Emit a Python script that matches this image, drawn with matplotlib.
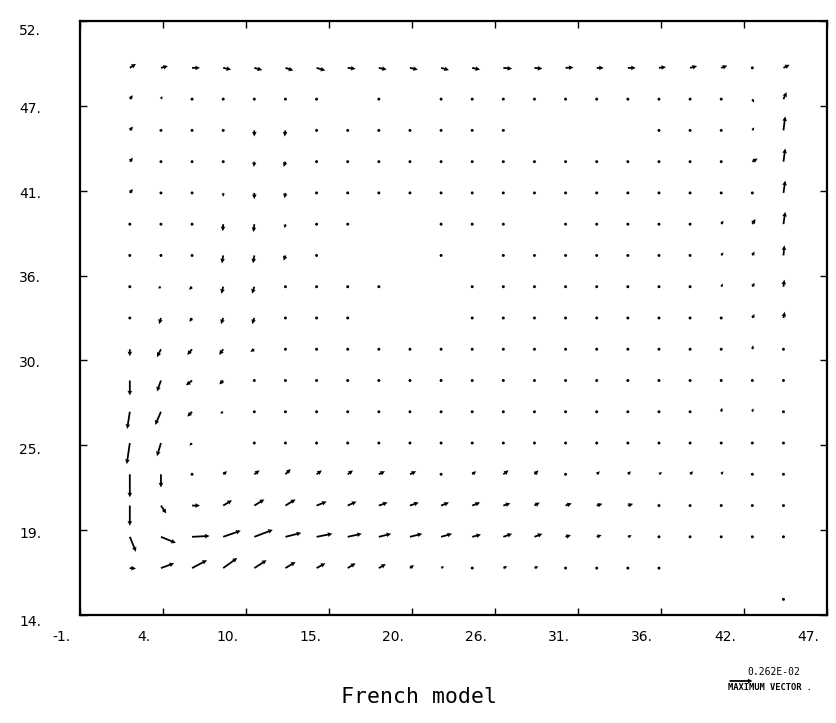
import numpy as np
import matplotlib
matplotlib.use("Agg")
import matplotlib.pyplot as plt
import matplotlib.transforms as mtransforms

nan = np.nan

# model grid (x to the right, y rows listed from top to bottom)
x_grid = np.arange(2.2, 44.3, 2.0)
y_grid = np.arange(49, 16, -2)

# velocity components, in units of 1e-4, one list per grid row (y = 49 ... 17)
u_rows = [
    [7, 8, 9, 9, 9, 9, 10, 9, 9, 9, 9, 9, 10, 9, 9, 8, 9, 8, 8, 7, 2, 7],
    [3.5, 1.5, 3, .5, .5, .3, .5, nan, .3, nan, .3, .5, .5, .5, .5, .5, .5, .5, .5, .5, 2, 3.5],
    [3.5, 2, 3, .3, 0, -1, .5, .5, .5, .5, .3, .3, .3, nan, nan, nan, nan, .3, .5, 1, 2, 2],
    [3.5, 2, 1, 0, -.5, -2, 1, .5, .5, .5, .5, .5, .5, .5, .5, .5, .5, .5, 2, 1.5, 6, 2],
    [3.5, 1.5, 2, 0, 0, -1, 1, .5, .5, .5, .5, .5, .5, .5, 1.5, .5, .5, .5, 2, 1.5, 1, 2],
    [2, 1, 1, -.5, -1, -1, 1.5, .5, nan, nan, .5, .5, .3, nan, .5, .5, 1.5, 1.5, 2, 2.5, 3.5, 2],
    [2, 1, -1, -1.5, -1.5, -2, 1, nan, nan, nan, .5, nan, .5, .5, .5, .5, 1.5, 1, 2, 2.5, 2.5, 1],
    [.5, -3.5, -3.5, -2, -2.5, -1, .5, .5, .5, nan, nan, .5, .5, .5, .5, .5, 2, 2, 1.5, 2, 2.5, 1],
    [0, -2, -3, -2.5, -2.5, -1, .5, .5, nan, nan, nan, 1, .5, .5, .5, 1, 1.5, 2, 2, 2, 2.5, 1.5],
    [0, -4.5, -5.5, -4.5, -4.5, 0, .5, .5, .5, .5, .5, .5, .5, .5, 1, 1.5, 1.5, 2, .5, 1, 1, 1],
    [0, -4.5, -7, -4.5, -2, .5, .5, .5, .5, .5, .5, .5, .5, 1, .5, 1, 1.5, 2, 1, 3, 1, 1],
    [-3, -6.5, -5.5, -3.5, .5, .5, 0, .5, .5, .5, 1, .5, 2, 2, 1, 2, 2, 2, 1, 1, 1, 1],
    [-3.5, -4.5, -3, nan, .5, .5, 1, 1, .5, .5, .5, 1, 2, 2, 2, 2, 2, .5, 1.5, 3, .3, 1],
    [0, 0, .5, 4.5, 6, 6, 6, 6, 7, 7, 2, 4.5, 6, 4.5, 1, 3.5, 3.5, 3.5, 3.5, 2.5, 1, 1],
    [0, 6, 9, 10, 11.5, 11.5, 11.5, 10, 10, 10, 9, 9, 8, 6, 7, 6.5, 6, 2, 1.5, 1.5, .5, 1],
    [7, 17, 20, 20, 21, 18, 18, 16, 14, 14, 12.5, 10, 10, 9, 6, 5.5, 4.5, 3.5, 1, 1, .5, 1],
    [7, 15, 17, 16, 14, 11.5, 10, 9, 8, 4.5, 3.5, 2, 4.5, 4.5, 1, .5, .5, .5, nan, nan, nan, nan],
]
v_rows = [
    [4.5, 2, 0, -2, -2.5, -3, -3, -1, -2, -2, -2.5, -2, -1, -1, .5, 0, 0, 1, 2, 2.5, -2.5, 3.5],
    [4.5, 3.5, 1, 0, 0, 0, 0, nan, 0, nan, 0, 0, 0, 0, 0, 0, 0, 0, 0, .5, -4, 8],
    [4.5, 1, .5, -2, -7, -7, -2, 0, 0, 0, 0, 0, 0, nan, nan, nan, nan, 0, 0, -1, 3.5, 16],
    [4.5, 1, 0, -3.5, -6, -6, 1, 0, 0, 0, 0, 0, 0, 0, 0, 0, 0, 0, 0, 1, 3.5, 15],
    [4.5, .5, 0, -4.5, -7, -6, 1.5, 0, 0, 0, 0, 0, 0, 0, 0, 0, 0, 0, 1, 1.5, 1, 14],
    [2, .5, 0, -8, -9, -4.5, .5, 0, nan, nan, 0, 0, 0, nan, 0, 0, 0, 0, .5, 4, 6, 14],
    [.5, 0, -3, -9, -9, -6, .5, nan, nan, nan, 0, nan, 0, 0, 0, 0, 0, 1, .5, 3.5, 4.5, 11.5],
    [0, -2, -3.5, -8, -8, -1, 0, 0, 0, nan, nan, 0, 0, 0, 0, 0, .5, .5, 1, 3.5, 4.5, 8],
    [-2, -7, -4.5, -7, -7, -1, 0, 0, nan, nan, nan, 0, 0, 0, 0, 0, 0, 1, 1.5, 2.5, 4.5, 7],
    [-8, -9, -6.5, -6.5, -3, .5, 0, 0, 0, 0, 0, 0, 0, 0, 1, .5, .5, 1, 0, 1, 4.5, 3.5],
    [-17, -12.5, -5.5, -4.5, -1, 0, 0, 0, 0, 0, 0, 0, 0, .5, 0, .5, .5, 1.5, 1, 2, 2, .5],
    [-19.5, -15, -5.5, -2, 0, 0, 1.5, 0, 0, 0, .5, 0, 1.5, 2, 2, 2, 1.5, 1, 1, 4.5, 4, 0],
    [-24, -15, -3, nan, 0, 1.5, 1, 0, 0, 0, 0, .5, 1.5, 2, .5, .5, .5, 0, 0, 2, 0, 0],
    [-26.2, -15, 0, 3.5, 4.5, 6, 4.5, 4.5, 3.5, 3.5, 1, 3.5, 4.5, 4.5, 1, 3.5, 3.5, 2.5, 3.5, 3.5, .5, 0],
    [-23, -9, 0, 6, 7, 7, 4.5, 4.5, 3.5, 3.5, 3.5, 3.5, 2.5, 3.5, 2.5, 2, 2, 1, .5, 0, 0, 0],
    [-17, -7, 1, 7, 8, 4.5, 3.5, 3.5, 3.5, 3.5, 3.5, 2.5, 3.5, 3.5, 2, 2, 1.5, 0, 0, 0, 0, .5],
    [-.5, 5.5, 9, 11.5, 9, 7, 5.5, 5.5, 4.5, 3.5, 2, 1, 2, 2, .5, 0, 0, 0, nan, nan, nan, nan],
]

# single point below the grid
x_extra = [44.2]
y_extra = [15.0]
u_extra = [0.5]
v_extra = [0.0]

xtick_labels = ['-1.', '4.', '10.', '15.', '20.', '26.', '31.', '36.', '42.', '47.']
ytick_labels = ['14.', '19.', '25.', '30.', '36.', '41.', '47.', '52.']

X, Y = np.meshgrid(x_grid, y_grid)
u = np.array(u_rows) * 1e-4
v = np.array(v_rows) * 1e-4
xs = np.concatenate([X.ravel(), x_extra])
ys = np.concatenate([Y.ravel(), y_extra])
us = np.concatenate([u.ravel(), np.array(u_extra) * 1e-4])
vs = np.concatenate([v.ravel(), np.array(v_extra) * 1e-4])
ok = np.isfinite(us) & np.isfinite(vs)

vmax = np.nanmax(np.hypot(us, vs))

fig = plt.figure(figsize=(8.37, 7.23), dpi=100)
ax = fig.add_axes([0.0956, 0.1494, 0.8925, 0.8216])

Q = ax.quiver(xs[ok], ys[ok], us[ok], vs[ok], pivot='tail', color='black',
              units='dots', width=1.8, headwidth=2.6, headlength=2.6,
              headaxislength=2.4, minshaft=1.2, minlength=1.8,
              scale_units='dots', scale=vmax / 23.0)

ax.set_xlim(-1, 47)
ax.set_ylim(14, 52)
ax.set_xticks(np.linspace(-1, 47, 10))
ax.set_yticks(np.linspace(14, 52, 8))
ax.set_xticklabels(xtick_labels)
ax.set_yticklabels(ytick_labels)
ax.tick_params(direction='in', length=5, width=1, top=True, right=True,
               labelsize=10, colors='black')
ax.tick_params(axis='x', pad=11)
ax.tick_params(axis='y', pad=28)
for s in ax.spines.values():
    s.set_linewidth(1.6)

# shift tick labels the way the plotter placed them
for lbl in ax.get_xticklabels():
    lbl.set_transform(lbl.get_transform() +
                      mtransforms.ScaledTranslation(-13.7 / 72, 0, fig.dpi_scale_trans))
ydown = [4, 2, 2, 1, 1, 1, 1, 6]
for lbl, dy in zip(ax.get_yticklabels(), ydown):
    lbl.set_transform(lbl.get_transform() +
                      mtransforms.ScaledTranslation(0, -dy / 72, fig.dpi_scale_trans))

# maximum vector key, FORTRAN style number
e = int(np.floor(np.log10(vmax))) + 1
key_label = f"{vmax / 10**e:.3f}E{e:+03d}"
ax.quiverkey(Q, 0.8853, 0.0581, vmax, '', labelpos='N', coordinates='figure')
fig.text(0.9247, 0.0705, key_label, ha='center', va='center',
         family='DejaVu Sans Mono', fontsize=7)
fig.text(0.8700, 0.0497, 'MAXIMUM VECTOR .', ha='left', va='center',
         family='DejaVu Sans Mono', fontsize=6.3, fontweight='bold')

fig.text(0.5006, 0.0360, 'French model', ha='center', va='center',
         family='DejaVu Sans Mono', fontsize=15.5)

fig.savefig('out.png', dpi=100, facecolor='white')
